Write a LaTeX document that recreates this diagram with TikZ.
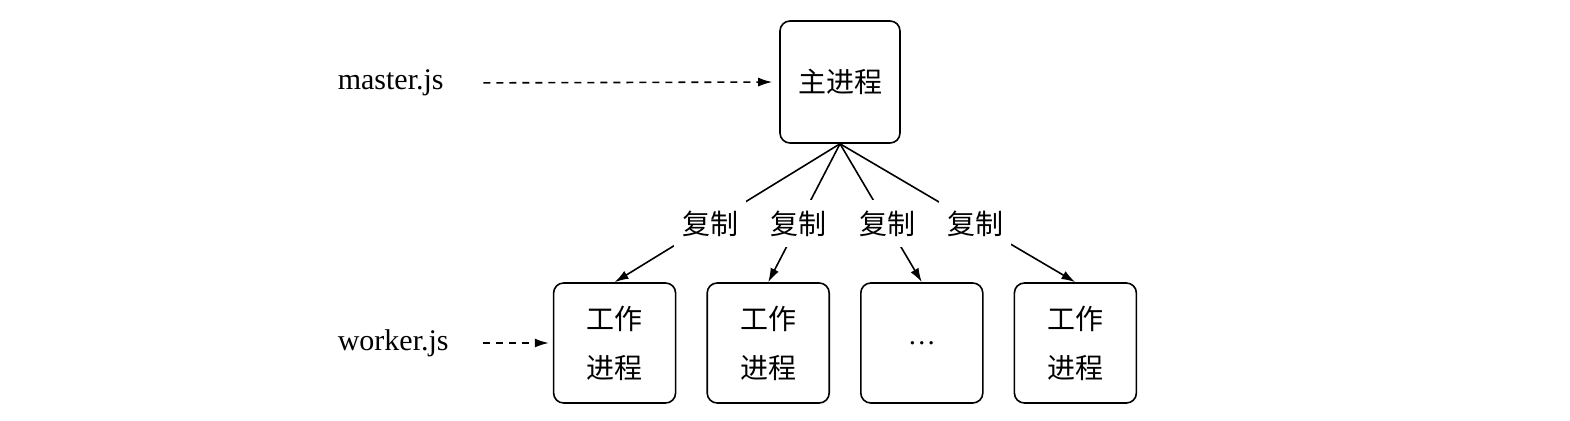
\documentclass[tikz,border=0pt]{standalone}
\usepackage{fontspec}
\setmainfont{Liberation Serif}
\newfontfamily\cjk{Noto Sans CJK SC}
\usetikzlibrary{arrows.meta, positioning}

\begin{document}
\begin{tikzpicture}
[x=1pt, y=-1pt,
> = {Latex[length=14pt, width=9pt]},
line width=1.6pt,
block/.style ={rectangle, draw=black, line width=1.6pt,
align=center, rounded corners=10pt,
font=\cjk\fontsize{28}{49}\selectfont},
wblock/.style ={block, minimum width=122pt, minimum height=120pt},
lbl/.style ={fill=white, inner xsep=8pt, inner ysep=11pt,
font=\cjk\fontsize{28}{28}\selectfont},
file/.style ={anchor=west, inner sep=0pt, font=\fontsize{30}{30}\selectfont},
dasharrow/.style ={->, dashed, dash pattern=on 7pt off 6pt},
]
\useasboundingbox (0,0) rectangle (1570,420);

% master
\node [block, minimum width=120pt, minimum height=122pt] (main) at (840,82) {主进程};
\node [file] (mjs) at (337,83) {master.js};

% workers
\matrix (workers) [column sep=30pt, inner sep=0pt] at (845,343)
{
\node [wblock] (w1) {工作\\进程}; &
\node [wblock] (w2) {工作\\进程}; &
\node [wblock, font=\fontsize{28}{28}\selectfont] (w3) {\dots}; &
\node [wblock] (w4) {工作\\进程}; \\
};
\node [file] (wjs) at (337,343) {worker.js};

 \draw[dasharrow] (mjs.east) -- (main.west) [shorten <=39pt, shorten >=7pt];
 \draw[dasharrow] (wjs.east) -- (w1.west) [shorten <=34pt, shorten >=4pt];
 \draw[->] (main.south) -- node[lbl, pos=0.575] {复制} (w1.north);
 \draw[->] (main.south) -- node[lbl, pos=0.575] {复制} (w2.north);
 \draw[->] (main.south) -- node[lbl, pos=0.575] {复制} (w3.north);
 \draw[->] (main.south) -- node[lbl, pos=0.575] {复制} (w4.north);
\end{tikzpicture}
\end{document}
